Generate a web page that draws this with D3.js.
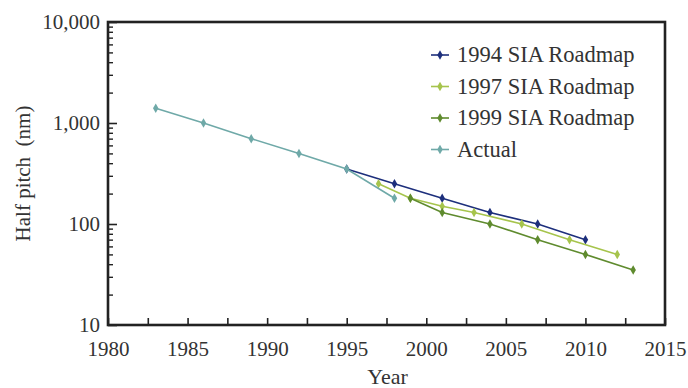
<!DOCTYPE html>
<html>
<head>
<meta charset="utf-8">
<script src="https://cdn.jsdelivr.net/npm/d3@7"></script>
<style>
  html, body { margin: 0; padding: 0; background: #fff; }
  svg { display: block; }
</style>
</head>
<body>
<svg id="chart" width="688" height="388"></svg>
<script>
// Half pitch (nm) by year
const actualYears   = [1983, 1986, 1989, 1992, 1995, 1998];
const actualValues  = [1400, 1000, 700, 500, 350, 180];

const sia1994Years  = [1995, 1998, 2001, 2004, 2007, 2010];
const sia1994Values = [350, 250, 180, 130, 100, 70];

const sia1997Years  = [1997, 1999, 2001, 2003, 2006, 2009, 2012];
const sia1997Values = [250, 180, 150, 130, 100, 70, 50];

const sia1999Years  = [1999, 2001, 2004, 2007, 2010, 2013];
const sia1999Values = [180, 130, 100, 70, 50, 35];

const xTickLabels = [1980, 1985, 1990, 1995, 2000, 2005, 2010, 2015];
const yTickLabels = [10, 100, 1000, 10000];

const seriesNames  = ["1994 SIA Roadmap", "1997 SIA Roadmap", "1999 SIA Roadmap", "Actual"];
const seriesColors = ["#1d2f7c", "#a6c44c", "#5f8b2e", "#6fa9a8"];

const series = [
  { name: seriesNames[0], color: seriesColors[0], years: sia1994Years, values: sia1994Values },
  { name: seriesNames[1], color: seriesColors[1], years: sia1997Years, values: sia1997Values },
  { name: seriesNames[2], color: seriesColors[2], years: sia1999Years, values: sia1999Values },
  { name: seriesNames[3], color: seriesColors[3], years: actualYears,  values: actualValues }
];

const FONT = "'Liberation Serif', 'Times New Roman', 'DejaVu Serif', serif";
const TEXT_COLOR = "#333";

const svg = d3.select("#chart");
const m = { left: 108, right: 665, top: 22, bottom: 325 };

const x = d3.scaleLinear().domain([1980, 2015]).range([m.left, m.right]);
const y = d3.scaleLog().domain([10, 10000]).range([m.bottom, m.top]);

const axisColor = "#222";

function styleText(sel, size) {
  sel.attr("font-family", FONT)
     .style("font-family", FONT)
     .attr("font-size", size)
     .attr("fill", TEXT_COLOR);
}

// x ticks (inward, every 2.5 years)
const xMinor = d3.range(1980, 2015.01, 2.5);
svg.append("g")
  .attr("transform", `translate(0,${m.bottom})`)
  .call(d3.axisBottom(x).tickValues(xMinor).tickSize(-7).tickFormat(""))
  .call(g => g.select(".domain").remove())
  .call(g => g.selectAll("line").attr("stroke", axisColor).attr("stroke-width", 1.6));

svg.append("g")
  .attr("transform", `translate(0,${m.bottom})`)
  .call(d3.axisBottom(x).tickValues(xTickLabels).tickSize(0).tickPadding(16)
    .tickFormat(d3.format("d")))
  .call(g => g.select(".domain").remove())
  .call(g => styleText(g.selectAll("text"), 21));

// y ticks (inward, log minor ticks)
const yMinor = [];
for (let p = 10; p < 10000; p *= 10) for (let k = 2; k <= 9; k++) yMinor.push(p * k);
svg.append("g")
  .attr("transform", `translate(${m.left},0)`)
  .call(d3.axisLeft(y).tickValues(yMinor).tickSize(-5).tickFormat(""))
  .call(g => g.select(".domain").remove())
  .call(g => g.selectAll("line").attr("stroke", axisColor).attr("stroke-width", 1.4));

svg.append("g")
  .attr("transform", `translate(${m.left},0)`)
  .call(d3.axisLeft(y).tickValues(yTickLabels).tickSize(-9).tickPadding(8)
    .tickFormat(d3.format(",")))
  .call(g => g.select(".domain").remove())
  .call(g => g.selectAll("line").attr("stroke", axisColor).attr("stroke-width", 1.6))
  .call(g => styleText(g.selectAll("text"), 21));

// frame
svg.append("rect")
  .attr("x", m.left).attr("y", m.top)
  .attr("width", m.right - m.left).attr("height", m.bottom - m.top)
  .attr("fill", "none").attr("stroke", axisColor).attr("stroke-width", 2.6);

// axis titles
svg.append("text")
  .attr("x", (m.left + m.right) / 2 + 1).attr("y", 384)
  .attr("text-anchor", "middle")
  .text("Year")
  .call(t => styleText(t, 22));

svg.append("text")
  .attr("transform", `translate(30,${(m.top + m.bottom) / 2}) rotate(-90)`)
  .attr("text-anchor", "middle")
  .attr("xml:space", "preserve")
  .text("Half pitch  (nm)")
  .call(t => styleText(t, 21));

// series
const line = d3.line().x(d => x(d[0])).y(d => y(d[1]));
const diamond = d3.symbol().type(d3.symbolDiamond).size(26);

series.forEach(s => {
  const pts = s.years.map((yr, i) => [yr, s.values[i]]);
  const g = svg.append("g");
  g.append("path")
    .datum(pts)
    .attr("d", line)
    .attr("fill", "none")
    .attr("stroke", s.color)
    .attr("stroke-width", 1.6);
  g.selectAll("path.pt")
    .data(pts)
    .join("path")
    .attr("class", "pt")
    .attr("transform", d => `translate(${x(d[0])},${y(d[1])})`)
    .attr("d", diamond)
    .attr("fill", s.color);
});

// legend
const legend = svg.append("g");
series.forEach((s, i) => {
  const cy = 55 + i * 31.5;
  legend.append("line")
    .attr("x1", 431).attr("x2", 449).attr("y1", cy).attr("y2", cy)
    .attr("stroke", s.color).attr("stroke-width", 1.6);
  legend.append("path")
    .attr("transform", `translate(440,${cy})`)
    .attr("d", diamond)
    .attr("fill", s.color);
  legend.append("text")
    .attr("x", 457).attr("y", cy)
    .attr("dy", "0.33em")
    .text(s.name)
    .call(t => styleText(t, 22.5));
});
</script>
</body>
</html>
